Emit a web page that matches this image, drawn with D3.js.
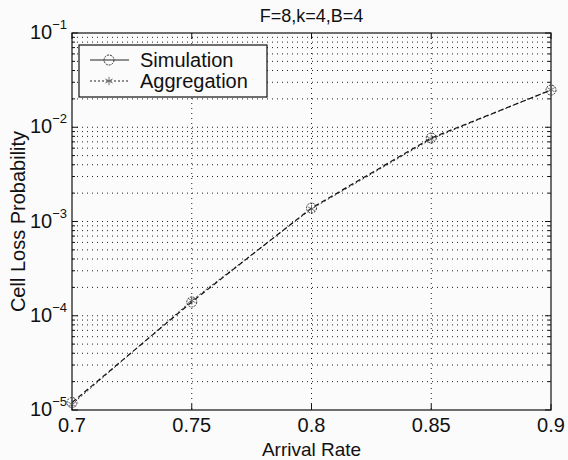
<!DOCTYPE html>
<html>
<head>
<meta charset="utf-8">
<script src="https://cdn.jsdelivr.net/npm/d3@7"></script>
<style>
  body { margin: 0; background: #fbfbfb; }
  svg { display: block; font-family: "Liberation Sans", Arial, sans-serif; }
</style>
</head>
<body>
<div id="chart"></div>
<script>
// Data
const arrivalRate = [0.7, 0.75, 0.8, 0.85, 0.9];
const simulation = [1.2e-5, 1.4e-4, 1.39e-3, 7.7e-3, 2.48e-2];
const aggregation = [1.15e-5, 1.45e-4, 1.36e-3, 7.5e-3, 2.5e-2];
const xTicks = [0.7, 0.75, 0.8, 0.85, 0.9];
const yDecades = [-5, -4, -3, -2, -1];

const width = 568;
const height = 460;
const margin = { top: 33, right: 17, bottom: 50, left: 72 };
const w = width - margin.left - margin.right;
const h = height - margin.top - margin.bottom;

const svg = d3.select('#chart').append('svg')
  .attr('width', width)
  .attr('height', height);

const g = svg.append('g')
  .attr('transform', `translate(${margin.left},${margin.top})`);

const x = d3.scaleLinear().domain([0.7, 0.9]).range([0, w]);
const y = d3.scaleLog().domain([1e-5, 1e-1]).range([h, 0]);

// all log ticks (major + minor)
const logTicks = [];
yDecades.slice(0, 4).forEach((e) => {
  for (let m = 1; m <= 9; m += 1) logTicks.push(m * 10 ** e);
});
logTicks.push(1e-1);

// grid lines, dotted
g.append('g')
  .selectAll('line')
  .data(logTicks.filter((v) => v > 1e-5 && v < 1e-1))
  .join('line')
  .attr('x1', 0)
  .attr('x2', w)
  .attr('y1', (d) => y(d))
  .attr('y2', (d) => y(d))
  .attr('stroke', '#222')
  .attr('stroke-width', 1)
  .attr('stroke-dasharray', '1,4');

g.append('g')
  .selectAll('line')
  .data(xTicks.slice(1, -1))
  .join('line')
  .attr('x1', (d) => x(d))
  .attr('x2', (d) => x(d))
  .attr('y1', 0)
  .attr('y2', h)
  .attr('stroke', '#222')
  .attr('stroke-width', 1)
  .attr('stroke-dasharray', '1,4');

// frame
g.append('rect')
  .attr('width', w)
  .attr('height', h)
  .attr('fill', 'none')
  .attr('stroke', '#111')
  .attr('stroke-width', 1.2);

// inward ticks
const isMajor = (v) => Math.abs(Math.log10(v) - Math.round(Math.log10(v))) < 1e-9;
const tickLen = (v) => (isMajor(v) ? 6 : 3);

g.append('g')
  .selectAll('line')
  .data(logTicks)
  .join('line')
  .attr('x1', 0)
  .attr('x2', (d) => tickLen(d))
  .attr('y1', (d) => y(d))
  .attr('y2', (d) => y(d))
  .attr('stroke', '#111');

g.append('g')
  .selectAll('line')
  .data(logTicks)
  .join('line')
  .attr('x1', w)
  .attr('x2', (d) => w - tickLen(d))
  .attr('y1', (d) => y(d))
  .attr('y2', (d) => y(d))
  .attr('stroke', '#111');

g.append('g')
  .selectAll('line')
  .data(xTicks)
  .join('line')
  .attr('x1', (d) => x(d))
  .attr('x2', (d) => x(d))
  .attr('y1', h)
  .attr('y2', h - 6)
  .attr('stroke', '#111');

g.append('g')
  .selectAll('line')
  .data(xTicks)
  .join('line')
  .attr('x1', (d) => x(d))
  .attr('x2', (d) => x(d))
  .attr('y1', 0)
  .attr('y2', 6)
  .attr('stroke', '#111');

// x tick labels
g.append('g')
  .selectAll('text')
  .data(xTicks)
  .join('text')
  .attr('x', (d) => x(d))
  .attr('y', h + 22)
  .attr('text-anchor', 'middle')
  .attr('font-size', 20)
  .attr('fill', '#111')
  .text((d) => d3.format('')(d));

// y tick labels 10^e
const yl = g.append('g')
  .selectAll('text')
  .data(yDecades)
  .join('text')
  .attr('x', -42)
  .attr('y', (d) => y(10 ** d) + 6)
  .attr('font-size', 20)
  .attr('fill', '#111');
yl.append('tspan').text('10');
yl.append('tspan')
  .attr('dy', -10)
  .attr('font-size', 13)
  .text((d) => `\u2212${-d}`);

// lines
const line = d3.line()
  .x((d, i) => x(arrivalRate[i]))
  .y((d) => y(d));

g.append('path')
  .datum(aggregation)
  .attr('fill', 'none')
  .attr('stroke', '#333')
  .attr('stroke-width', 1)
  .attr('stroke-dasharray', '2,2')
  .attr('d', line);

g.append('path')
  .datum(simulation)
  .attr('fill', 'none')
  .attr('stroke', '#111')
  .attr('stroke-width', 1.2)
  .attr('stroke-dasharray', '5,3')
  .attr('d', line);

// markers
g.append('g')
  .selectAll('circle')
  .data(simulation)
  .join('circle')
  .attr('cx', (d, i) => x(arrivalRate[i]))
  .attr('cy', (d) => y(d))
  .attr('r', 5)
  .attr('fill', 'none')
  .attr('stroke', '#333')
  .attr('stroke-width', 1)
  .attr('stroke-dasharray', '2,1');

const star = d3.symbol().type(d3.symbolAsterisk).size(50);
g.append('g')
  .selectAll('path')
  .data(aggregation)
  .join('path')
  .attr('transform', (d, i) => `translate(${x(arrivalRate[i])},${y(d)})`)
  .attr('d', star)
  .attr('fill', 'none')
  .attr('stroke', '#555')
  .attr('stroke-width', 0.8);

// legend
const lg = svg.append('g').attr('transform', 'translate(79,45)');
lg.append('rect')
  .attr('width', 188)
  .attr('height', 52)
  .attr('fill', '#fbfbfb')
  .attr('stroke', '#111')
  .attr('stroke-width', 1.2);

const legendItems = [
  { label: 'Simulation', marker: 'circle' },
  { label: 'Aggregation', marker: 'star' },
];
legendItems.forEach((item, i) => {
  const yy = 15 + i * 21;
  lg.append('line')
    .attr('x1', 11)
    .attr('x2', 50)
    .attr('y1', yy)
    .attr('y2', yy)
    .attr('stroke', '#222')
    .attr('stroke-width', 1)
    .attr('stroke-dasharray', i === 0 ? null : '2,2');
  if (item.marker === 'circle') {
    lg.append('circle')
      .attr('cx', 30)
      .attr('cy', yy)
      .attr('r', 5)
      .attr('fill', 'none')
      .attr('stroke', '#333')
      .attr('stroke-dasharray', '2,1');
  } else {
    lg.append('path')
      .attr('transform', `translate(30,${yy})`)
      .attr('d', star)
      .attr('fill', 'none')
      .attr('stroke', '#555')
      .attr('stroke-width', 0.8);
  }
  lg.append('text')
    .attr('x', 61)
    .attr('y', yy + 7)
    .attr('font-size', 20)
    .attr('fill', '#111')
    .text(item.label);
});

// title and axis labels
svg.append('text')
  .attr('x', margin.left + w / 2)
  .attr('y', 22)
  .attr('text-anchor', 'middle')
  .attr('font-size', 18)
  .attr('fill', '#111')
  .text('F=8,k=4,B=4');

svg.append('text')
  .attr('x', margin.left + w / 2)
  .attr('y', 456)
  .attr('text-anchor', 'middle')
  .attr('font-size', 19)
  .attr('fill', '#111')
  .text('Arrival Rate');

svg.append('text')
  .attr('transform', `translate(25,${margin.top + h / 2}) rotate(-90)`)
  .attr('text-anchor', 'middle')
  .attr('font-size', 20)
  .attr('fill', '#111')
  .text('Cell Loss Probability');
</script>
</body>
</html>
